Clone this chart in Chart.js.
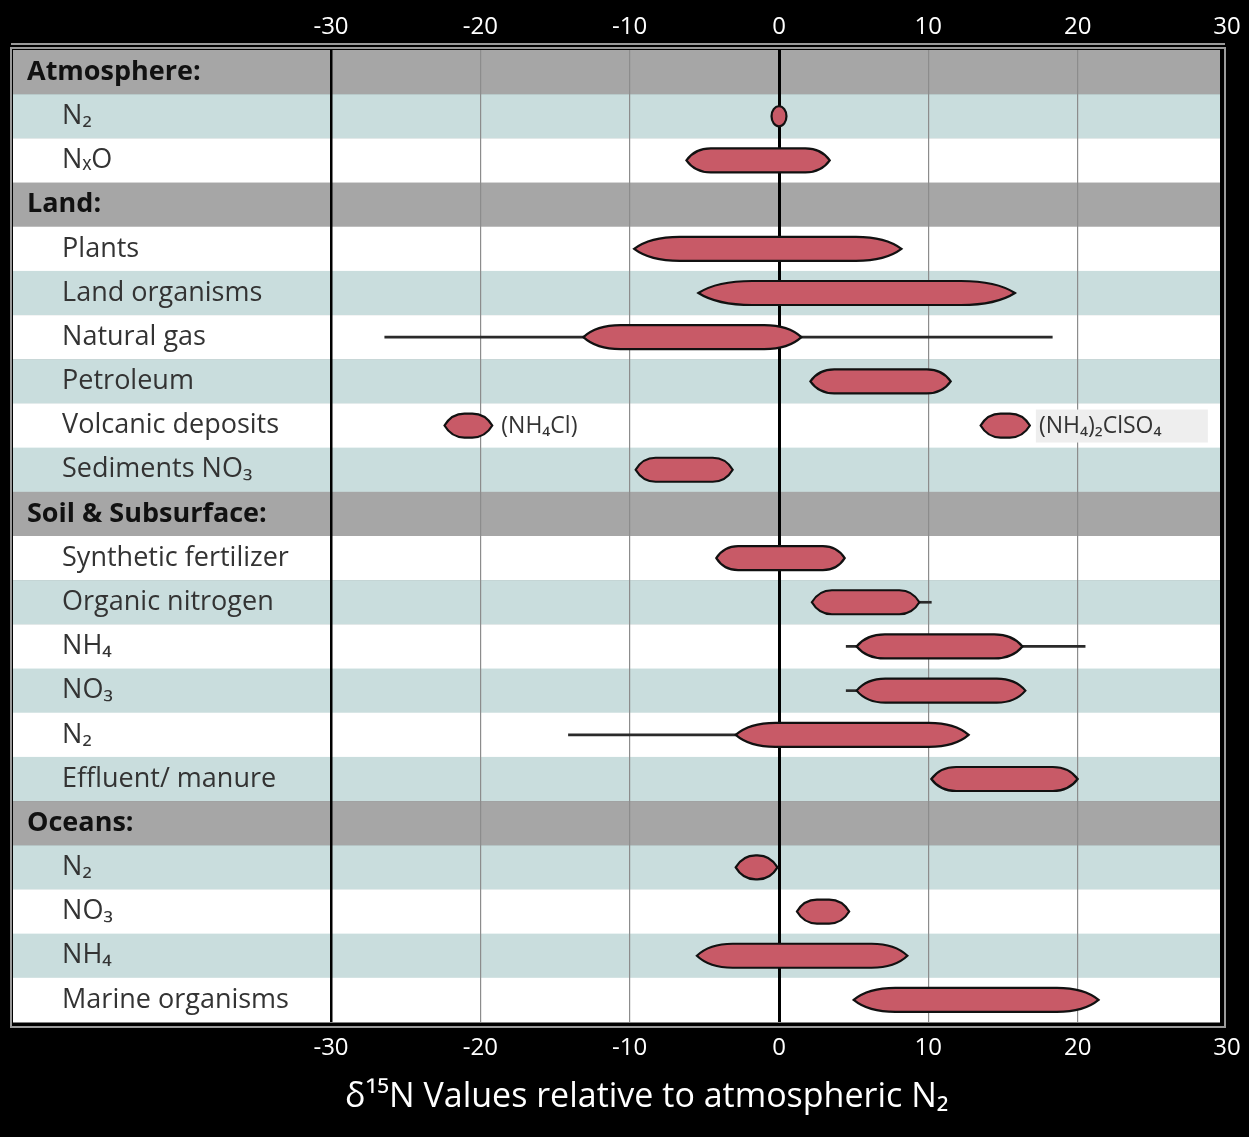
<!DOCTYPE html>
<html>
<head>
<meta charset="utf-8">
<script src="https://cdn.jsdelivr.net/npm/chart.js@4.4.1/dist/chart.umd.min.js"></script>
<style>
  html, body { margin: 0; padding: 0; background: #000; }
  #wrap { width: 1249px; height: 1137px; position: relative; }
</style>
</head>
<body>
<div id="wrap"><canvas id="chart"></canvas></div>
<script>
// categorias (linhas da tabela)
const categories = [
    "Atmosphere:", "N₂", "NₓO",
    "Land:", "Plants", "Land organisms", "Natural gas", "Petroleum", "Volcanic deposits", "Sediments NO₃",
    "Soil & Subsurface:", "Synthetic fertilizer", "Organic nitrogen", "NH₄", "NO₃", "N₂", "Effluent/ manure",
    "Oceans:", "N₂", "NO₃", "NH₄", "Marine organisms"
];
const headerRows = [0, 3, 10, 17];

// faixas principais (elipses)
const mainRanges = [
    null, [-0.5, 0.5], [-6.2, 3.4],
    null, [-9.7, 8.2], [-5.4, 15.8], [-13.1, 1.5], [2.1, 11.5], [-22.4, -19.2], [-9.6, -3.1],
    null, [-4.2, 4.4], [2.2, 9.4], [5.2, 16.3], [5.2, 16.5], [-2.9, 12.7], [10.2, 20.0],
    null, [-2.9, 0], [1.2, 4.7], [-5.5, 8.6], [5.0, 21.4]
];
// segunda elipse (so Volcanic deposits)
const extraRanges = [
    null, null, null,
    null, null, null, null, null, [13.5, 16.8], null,
    null, null, null, null, null, null, null,
    null, null, null, null, null
];
// linhas (extremos)
const whiskerRanges = [
    null, null, null,
    null, null, null, [-26.4, 18.3], null, null, null,
    null, null, [9.4, 10.2], [4.5, 20.5], [4.5, 5.2], [-14.1, -2.9], null,
    null, null, null, null, null
];
const noteMain = { 8: "(NH₄Cl)" };
const noteExtra = { 8: "(NH₄)₂ClSO₄" };

const xTicks = [-30, -20, -10, 0, 10, 20, 30];
const axisTitle = "δ¹⁵N Values relative to atmospheric N₂";

// indentacao dos itens
const labels = categories.map((c, i) => headerRows.includes(i) ? c : "     " + c);

const FILL = "#c85a67";

function lensPath(ctx, x1, x2, cy, h) {
    const left = Math.min(x1, x2), right = Math.max(x1, x2);
    const w = right - left;
    ctx.beginPath();
    if (w < 30) {
        // bem pequena: elipse simples
        ctx.ellipse((left + right) / 2, cy, w / 2, h / 2 - 2, 0, 0, Math.PI * 2);
        return;
    }
    const t = Math.min(w / 2, Math.max(20, w * 0.17));
    const top = cy - h / 2, bot = cy + h / 2;
    const k = 0.35;
    ctx.moveTo(left, cy);
    ctx.quadraticCurveTo(left + t * k, top, left + t, top);
    ctx.lineTo(right - t, top);
    ctx.quadraticCurveTo(right - t * k, top, right, cy);
    ctx.quadraticCurveTo(right - t * k, bot, right - t, bot);
    ctx.lineTo(left + t, bot);
    ctx.quadraticCurveTo(left + t * k, bot, left, cy);
    ctx.closePath();
}

const bgPlugin = {
    id: "rows",
    beforeDraw(chart) {
        const ctx = chart.ctx;
        const area = chart.chartArea;
        const y = chart.scales.y;
        const rowH = (area.bottom - area.top) / categories.length;
        ctx.save();
        ctx.fillStyle = "#000";
        ctx.fillRect(0, 0, chart.width, chart.height);
        // moldura
        ctx.strokeStyle = "#9a9a9a";
        ctx.lineWidth = 2;
        ctx.beginPath();
        ctx.moveTo(11, area.top - 6);
        ctx.lineTo(area.right - 2, area.top - 6);
        ctx.stroke();
        ctx.strokeRect(11, area.top - 2, area.right - 13, area.bottom - area.top + 7);
        let alt = 0;
        categories.forEach((c, i) => {
            const cy = y.getPixelForValue(i);
            let col;
            if (headerRows.includes(i)) { col = "#a6a6a6"; alt = 0; }
            else { col = (i < 3 || i > 17) ? (alt % 2 === 0 ? "#c9dddd" : "#ffffff") : (alt % 2 === 0 ? "#ffffff" : "#c9dddd"); alt++; }
            ctx.fillStyle = col;
            ctx.fillRect(13, cy - rowH / 2, area.right - 7 - 13, rowH + 0.5);
        });
        ctx.restore();
    },
    afterDatasetsDraw(chart) {
        const ctx = chart.ctx;
        ctx.save();
        chart.data.datasets.forEach((ds, di) => {
            if (!ds.lens) return;
            const meta = chart.getDatasetMeta(di);
            meta.data.forEach((el, i) => {
                if (ds.data[i] == null) return;
                const p = el.getProps(["x", "y", "base", "height"], true);
                lensPath(ctx, p.base, p.x, p.y, p.height);
                ctx.fillStyle = FILL;
                ctx.fill();
                ctx.lineWidth = 2.2;
                ctx.strokeStyle = "#111";
                ctx.stroke();
                const note = ds.notes[i];
                if (note) {
                    const right = Math.max(p.base, p.x);
                    ctx.font = "23px 'Open Sans', sans-serif";
                    ctx.textBaseline = "middle";
                    if (ds.noteBox) {
                        ctx.fillStyle = "#eeeeee";
                        ctx.fillRect(right + 6, p.y - 16, 172, 33);
                    }
                    ctx.fillStyle = "#333";
                    ctx.fillText(note, right + 9, p.y + 1);
                }
            });
        });
        // titulo do eixo
        ctx.fillStyle = "#fff";
        ctx.font = "34px 'Open Sans', sans-serif";
        ctx.textBaseline = "middle";
        ctx.fillText(axisTitle, 345, 1097);
        ctx.restore();
    }
};

const tickFont = { family: "'Open Sans', sans-serif", size: 24 };

// sem folga extra para o ultimo rotulo
function fixPad(h) {
    return (s) => { s.height = h; s.paddingLeft = 0; s.paddingRight = 0; };
}

new Chart(document.getElementById("chart"), {
    type: "bar",
    data: {
        labels: labels,
        datasets: [
            {
                label: "whisker",
                data: whiskerRanges,
                backgroundColor: "#2a2a2a",
                barThickness: 2,
                grouped: false
            },
            {
                label: "main",
                data: mainRanges,
                backgroundColor: "rgba(0,0,0,0)",
                barThickness: 24,
                grouped: false,
                lens: true,
                notes: noteMain
            },
            {
                label: "extra",
                data: extraRanges,
                backgroundColor: "rgba(0,0,0,0)",
                barThickness: 24,
                grouped: false,
                lens: true,
                notes: noteExtra,
                noteBox: true
            }
        ]
    },
    options: {
        indexAxis: "y",
        responsive: true,
        maintainAspectRatio: false,
        animation: false,
        layout: { padding: { left: 27, right: 22, top: 0, bottom: 0 } },
        plugins: { legend: { display: false }, tooltip: { enabled: false } },
        scales: {
            x: {
                type: "linear",
                position: "bottom",
                min: -30, max: 30,
                afterBuildTicks: (s) => { s.ticks = xTicks.map(v => ({ value: v })); },
                afterFit: fixPad(115),
                ticks: { color: "#fff", font: tickFont, padding: 12, maxRotation: 0 },
                grid: {
                    drawTicks: false,
                    color: (c) => (c.tick && (c.tick.value === 0 || c.tick.value === -30)) ? "#000" : (c.tick && c.tick.value === 30 ? "rgba(0,0,0,0)" : "#8c8c8c"),
                    lineWidth: (c) => (c.tick && c.tick.value === 0) ? 3 : (c.tick && c.tick.value === -30 ? 2.5 : 1.2)
                },
                border: { display: false }
            },
            x2: {
                type: "linear",
                position: "top",
                min: -30, max: 30,
                afterBuildTicks: (s) => { s.ticks = xTicks.map(v => ({ value: v })); },
                afterFit: fixPad(50),
                ticks: { color: "#fff", font: tickFont, padding: 8, maxRotation: 0 },
                grid: { display: false, drawTicks: false },
                border: { display: false }
            },
            y: {
                type: "category",
                afterFit: (s) => { s.width = 304; },
                ticks: {
                    crossAlign: "far",
                    autoSkip: false,
                    padding: 0,
                    color: (c) => headerRows.includes(c.index) ? "#111" : "#333",
                    font: (c) => headerRows.includes(c.index)
                        ? { family: "'Open Sans', sans-serif", size: 27, weight: "bold" }
                        : { family: "'Open Sans', sans-serif", size: 27 }
                },
                grid: { display: false, drawTicks: false },
                border: { display: false }
            }
        }
    },
    plugins: [bgPlugin]
});
</script>
</body>
</html>
